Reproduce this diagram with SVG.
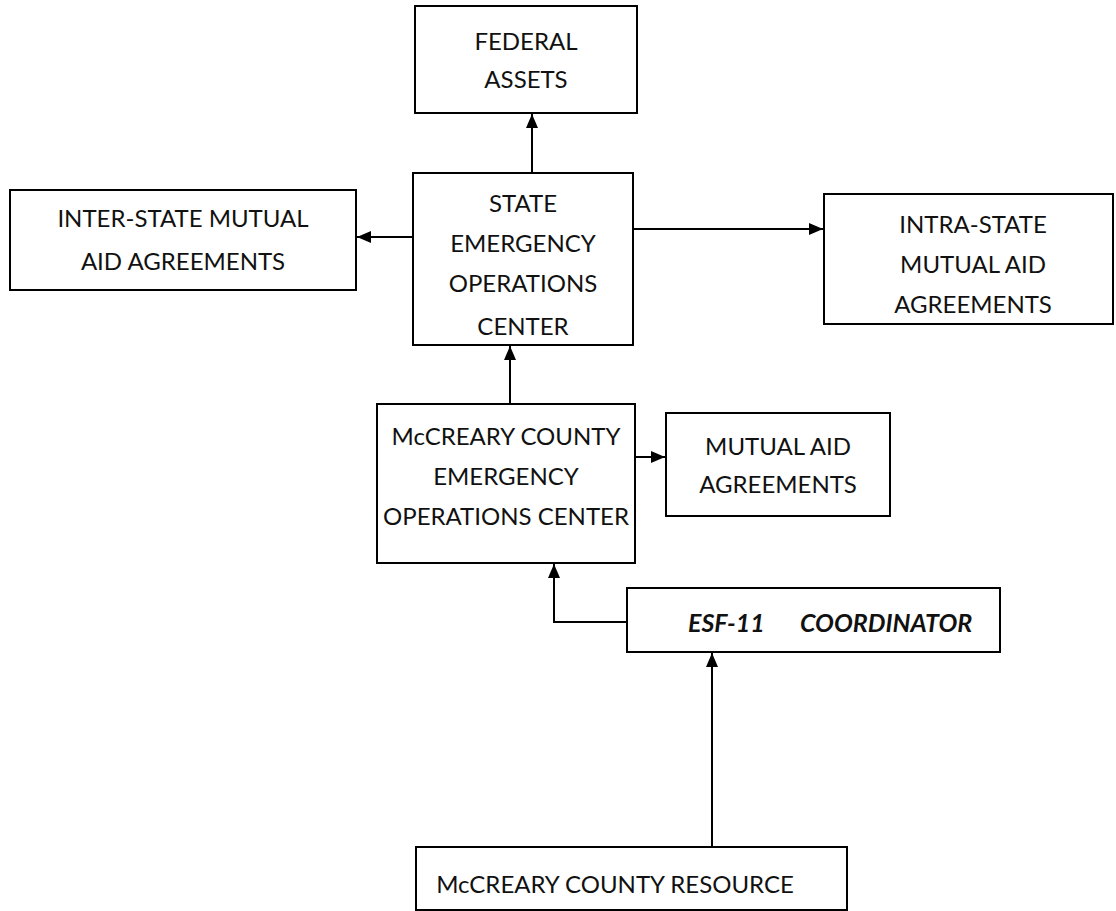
<svg xmlns="http://www.w3.org/2000/svg" width="1116" height="911" viewBox="0 0 1116 911">
<style>
.box{fill:#fff;stroke:#000;stroke-width:2}
.t{font-family:Lato,"Liberation Sans",sans-serif;font-size:24px;fill:#111;text-anchor:middle}
.bi{font-weight:bold;font-style:italic;text-anchor:start;font-size:25px}
.c{fill:none;stroke:#000;stroke-width:2}
</style>
<defs>
<marker id="ah" viewBox="0 0 14 12" refX="14" refY="6" markerWidth="14" markerHeight="12" markerUnits="userSpaceOnUse" orient="auto">
<path d="M0,0 L14,6 L0,12 Z" fill="#000"/>
</marker>
</defs>
<rect width="1116" height="911" fill="#fff"/>
<g id="connectors">
<path class="c" d="M532,173 V114" marker-end="url(#ah)"/>
<path class="c" d="M413,237 H357" marker-end="url(#ah)"/>
<path class="c" d="M633,229 H823" marker-end="url(#ah)"/>
<path class="c" d="M510,404 V346" marker-end="url(#ah)"/>
<path class="c" d="M635,457 H665" marker-end="url(#ah)"/>
<path class="c" d="M627,622 H554 V564" marker-end="url(#ah)"/>
<path class="c" d="M712,847 V653" marker-end="url(#ah)"/>
</g>
<g id="federal">
<rect class="box" x="415" y="6" width="222" height="107"/>
<text class="t" x="526" y="50">FEDERAL</text>
<text class="t" x="526" y="88">ASSETS</text>
</g>
<g id="interstate">
<rect class="box" x="10" y="190" width="346" height="100"/>
<text class="t" x="183" y="227">INTER-STATE MUTUAL</text>
<text class="t" x="183" y="270">AID AGREEMENTS</text>
</g>
<g id="state-eoc">
<rect class="box" x="413" y="173" width="220" height="172"/>
<text class="t" x="523" y="212">STATE</text>
<text class="t" x="523" y="252">EMERGENCY</text>
<text class="t" x="523" y="292">OPERATIONS</text>
<text class="t" x="523" y="335">CENTER</text>
</g>
<g id="intrastate">
<rect class="box" x="824" y="194" width="289" height="130"/>
<text class="t" x="973" y="233">INTRA-STATE</text>
<text class="t" x="973" y="273">MUTUAL AID</text>
<text class="t" x="973" y="313">AGREEMENTS</text>
</g>
<g id="county-eoc">
<rect class="box" x="377" y="404" width="258" height="159"/>
<text class="t" x="506" y="445">McCREARY COUNTY</text>
<text class="t" x="506" y="485">EMERGENCY</text>
<text class="t" x="506" y="525">OPERATIONS CENTER</text>
</g>
<g id="mutual-aid">
<rect class="box" x="666" y="413" width="224" height="103"/>
<text class="t" x="778" y="455">MUTUAL AID</text>
<text class="t" x="778" y="493">AGREEMENTS</text>
</g>
<g id="esf11">
<rect class="box" x="627" y="588" width="373" height="64"/>
<text class="t bi" y="632"><tspan x="688">ESF-11</tspan><tspan x="800">COORDINATOR</tspan></text>
</g>
<g id="resource">
<rect class="box" x="416" y="847" width="431" height="63"/>
<text class="t" x="615" y="893">McCREARY COUNTY RESOURCE</text>
</g>
</svg>
